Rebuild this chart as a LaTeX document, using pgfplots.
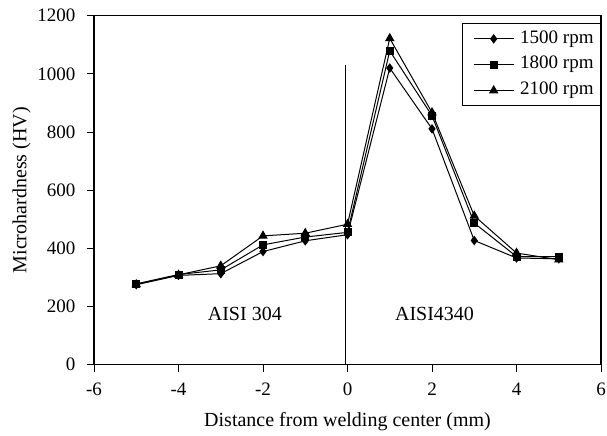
\documentclass[border=0pt]{standalone}
\usepackage{fontspec}
\setmainfont{Liberation Serif}
\usepackage{pgfplots}
\pgfplotsset{compat=1.18}
\begin{document}
\fontsize{19}{22}\selectfont
\begin{tikzpicture}
\begin{axis}[
 width=507pt, height=349pt, scale only axis,
 xmin=-6, xmax=6, ymin=0, ymax=1200,
 xtick={-6,-4,-2,0,2,4,6}, ytick={0,200,400,600,800,1000,1200},
 tick align=outside, xtick pos=bottom, ytick pos=left,
 major tick length=7pt,
 tick style={black, line width=0.8pt},
 axis line style={line width=1.3pt},
 /pgf/number format/assume math mode=true,
 /pgf/number format/set thousands separator={},
 tick label style={font=\fontsize{19}{22}\selectfont},
 label style={font=\fontsize{20}{23}\selectfont},
 xticklabel shift=5pt, yticklabel shift=5pt,
 xlabel shift=3pt, ylabel shift=-6pt,
 xlabel={Distance from welding center (mm)},
 ylabel={Microhardness (HV)},
 legend cell align=left,
 legend image code/.code={\path (0pt,0pt) (50pt,0pt); \draw[mark repeat=2,mark phase=2] plot coordinates {(6pt,0pt) (26pt,0pt) (46pt,0pt)};},
 legend style={at={(rel axis cs:1,0.979)}, anchor=north east, draw=black, line width=0.9pt,
   font=\fontsize{19}{22}\selectfont, row sep=5pt, inner xsep=5pt, inner ysep=5pt,
   nodes={inner sep=2pt, text depth=0.22em}},
 every axis plot/.append style={black, line width=1pt},
]
\addplot[mark=diamond*, mark size=4pt] coordinates {
 (-5,275) (-4,307) (-3,313) (-2,389) (-1,426) (0,447) (1,1020) (2,811) (3,427) (4,367) (5,364)};
\addlegendentry{1500 rpm}
\addplot[mark=square*, mark size=3.5pt] coordinates {
 (-5,278) (-4,310) (-3,326) (-2,412) (-1,439) (0,455) (1,1079) (2,856) (3,487) (4,372) (5,372)};
\addlegendentry{1800 rpm}
\addplot[mark=triangle*, mark size=4.5pt] coordinates {
 (-5,276) (-4,309) (-3,340) (-2,443) (-1,452) (0,483) (1,1122) (2,867) (3,512) (4,384) (5,361)};
\addlegendentry{2100 rpm}
\addplot[black, line width=0.9pt, mark=none, forget plot] coordinates {(-0.05,0) (-0.05,1030)};
\node[font=\fontsize{20}{23}\selectfont] at (axis cs:-2.43,175) {AISI 304};
\node[font=\fontsize{20}{23}\selectfont] at (axis cs:2.06,175) {AISI4340};
\end{axis}
\pgfresetboundingbox
\useasboundingbox ([xshift=-94pt,yshift=-71pt]current axis.south west) rectangle ([xshift=6pt,yshift=15.7pt]current axis.north east);
\end{tikzpicture}
\end{document}
